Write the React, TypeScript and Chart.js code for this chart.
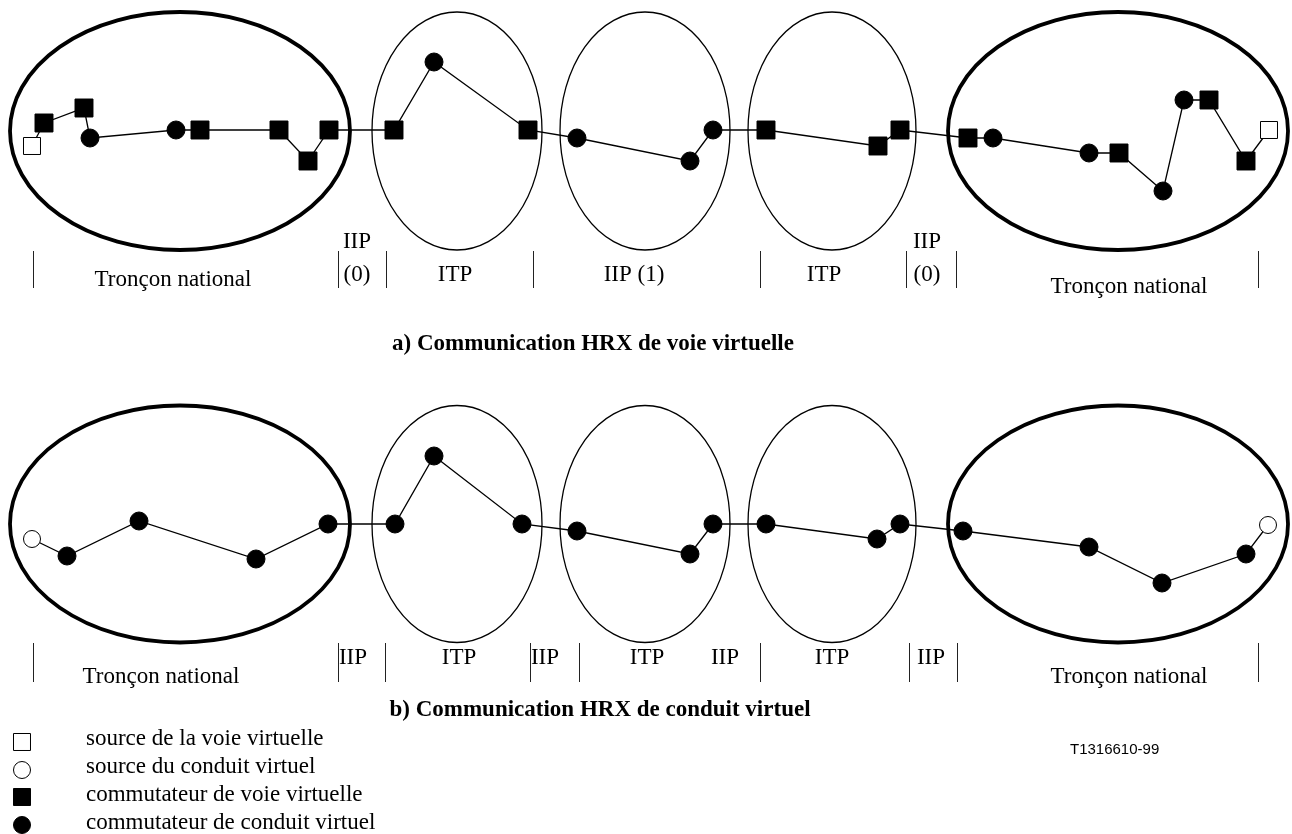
import React, { useEffect, useRef } from "react";
import { Chart, registerables } from "chart.js";

Chart.register(...registerables);

// ---- Diagram a) : communication HRX de voie virtuelle ----
const aX = [32, 44, 84, 90, 176, 200, 279, 308, 329, 394, 434, 528, 577, 690, 713, 766, 878, 900, 968, 993, 1089, 1119, 1163, 1184, 1209, 1246, 1269];
const aY = [146, 123, 108, 138, 130, 130, 130, 161, 130, 130, 62, 130, 138, 161, 130, 130, 146, 130, 138, 138, 153, 153, 191, 100, 100, 161, 130];
const aKind = ["vs", "sw", "sw", "cw", "cw", "sw", "sw", "sw", "sw", "sw", "cw", "sw", "cw", "cw", "cw", "sw", "sw", "sw", "sw", "cw", "cw", "sw", "cw", "cw", "sw", "sw", "vs"];

// ---- Diagram b) : communication HRX de conduit virtuel ----
const bX = [32, 67, 139, 256, 328, 395, 434, 522, 577, 690, 713, 766, 877, 900, 963, 1089, 1162, 1246, 1268];
const bY = [539, 556, 521, 559, 524, 524, 456, 524, 531, 554, 524, 524, 539, 524, 531, 547, 583, 554, 525];
const bKind = ["cs", "cw", "cw", "cw", "cw", "cw", "cw", "cw", "cw", "cw", "cw", "cw", "cw", "cw", "cw", "cw", "cw", "cw", "cs"];

// ---- Ellipses (domains) ----
const ellCX = [180, 457, 645, 832, 1118];
const ellRX = [170, 85, 85, 84, 170];
const ellThick = [true, false, false, false, true];
const ellRowCY = [131, 524];
const ellRY = [119, 118.5];

// ---- Section separators ----
const aBarX = [33, 338, 386, 533, 760, 906, 956, 1258];
const aBarY = [251, 288];
const bBarX = [33, 338, 385, 530, 579, 760, 909, 957, 1258];
const bBarY = [643, 682];

// ---- Section labels ----
const aLabelText = ["Tronçon national", "IIP", "(0)", "ITP", "IIP (1)", "ITP", "IIP", "(0)", "Tronçon national"];
const aLabelX = [173, 357, 357, 455, 634, 824, 927, 927, 1129];
const aLabelY = [280, 242, 275, 275, 275, 275, 242, 275, 287];

const bLabelText = ["Tronçon national", "IIP", "ITP", "IIP", "ITP", "IIP", "ITP", "IIP", "Tronçon national"];
const bLabelX = [161, 353, 459, 545, 647, 725, 832, 931, 1129];
const bLabelY = [677, 658, 658, 658, 658, 658, 658, 658, 677];

// ---- Titles ----
const titleText = ["a) Communication HRX de voie virtuelle", "b) Communication HRX de conduit virtuel"];
const titleX = [593, 600];
const titleY = [344, 710];

// ---- Legend ----
const legendKind = ["vs", "cs", "sw", "cw"];
const legendText = ["source de la voie virtuelle", "source du conduit virtuel", "commutateur de voie virtuelle", "commutateur de conduit virtuel"];
const legendSymX = [22, 22, 22, 22];
const legendSymY = [742, 770, 797, 825];
const legendTextX = 86;
const legendTextY = [739, 767, 795, 823];

const refText = "T1316610-99";
const refX = 1070;
const refY = 750;

const styleOf = (k: string) => (k === "vs" || k === "sw" ? "rect" : "circle");
const fillOf = (k: string) => (k === "vs" || k === "cs" ? "#ffffff" : "#000000");
const radiusOf = (k: string) => (k === "vs" ? 12 : k === "sw" ? 12.7 : k === "cs" ? 8.5 : 9);

const SERIF = '"Liberation Serif", "Times New Roman", serif';

const diagramPlugin = {
  id: "diagram",
  beforeDatasetsDraw(chart: any) {
    const { ctx, scales } = chart;
    const xs = scales.x;
    const ys = scales.y;
    ctx.save();
    ctx.strokeStyle = "#000";
    for (let r = 0; r < ellRowCY.length; r++) {
      for (let i = 0; i < ellCX.length; i++) {
        const cx = xs.getPixelForValue(ellCX[i]);
        const cy = ys.getPixelForValue(ellRowCY[r]);
        const rx = Math.abs(xs.getPixelForValue(ellCX[i] + ellRX[i]) - cx);
        const ry = Math.abs(ys.getPixelForValue(ellRowCY[r] + ellRY[r]) - cy);
        ctx.lineWidth = ellThick[i] ? 3.8 : 1.3;
        ctx.beginPath();
        ctx.ellipse(cx, cy, rx, ry, 0, 0, Math.PI * 2);
        ctx.stroke();
      }
    }
    ctx.restore();
  },
  afterDatasetsDraw(chart: any) {
    const { ctx, scales } = chart;
    const xs = scales.x;
    const ys = scales.y;
    ctx.save();
    // separators
    ctx.strokeStyle = "#222";
    ctx.lineWidth = 1;
    const bars = (xsArr: number[], yr: number[]) => {
      for (const bx of xsArr) {
        const px = Math.round(xs.getPixelForValue(bx)) + 0.5;
        ctx.beginPath();
        ctx.moveTo(px, ys.getPixelForValue(yr[0]));
        ctx.lineTo(px, ys.getPixelForValue(yr[1]));
        ctx.stroke();
      }
    };
    bars(aBarX, aBarY);
    bars(bBarX, bBarY);

    ctx.fillStyle = "#000";
    ctx.textBaseline = "middle";
    ctx.textAlign = "center";
    ctx.font = `23px ${SERIF}`;
    const labels = (t: string[], lx: number[], ly: number[]) => {
      t.forEach((s, i) => ctx.fillText(s, xs.getPixelForValue(lx[i]), ys.getPixelForValue(ly[i])));
    };
    labels(aLabelText, aLabelX, aLabelY);
    labels(bLabelText, bLabelX, bLabelY);

    ctx.font = `bold 23px ${SERIF}`;
    labels(titleText, titleX, titleY);

    ctx.textAlign = "left";
    ctx.font = `23px ${SERIF}`;
    legendText.forEach((s, i) => ctx.fillText(s, xs.getPixelForValue(legendTextX), ys.getPixelForValue(legendTextY[i])));

    ctx.font = '15px "Liberation Sans", Arial, sans-serif';
    ctx.fillText(refText, xs.getPixelForValue(refX), ys.getPixelForValue(refY));
    ctx.restore();
  },
};

const pathDataset = (xv: number[], yv: number[], kinds: string[]) => ({
  data: xv.map((x, i) => ({ x, y: yv[i] })),
  showLine: true,
  borderColor: "#000",
  borderWidth: 1.3,
  tension: 0,
  pointStyle: kinds.map(styleOf),
  pointRadius: kinds.map(radiusOf),
  pointBackgroundColor: kinds.map(fillOf),
  pointBorderColor: "#000",
  pointBorderWidth: 1,
  clip: false as const,
});

export default function App() {
  const ref = useRef<HTMLCanvasElement | null>(null);
  useEffect(() => {
    document.body.style.margin = "0";
    document.body.style.background = "#fff";
    const canvas = ref.current;
    if (!canvas) return;
    const chart = new Chart(canvas, {
      type: "scatter",
      data: {
        datasets: [
          pathDataset(aX, aY, aKind),
          pathDataset(bX, bY, bKind),
          {
            data: legendSymX.map((x, i) => ({ x, y: legendSymY[i] })),
            showLine: false,
            pointStyle: legendKind.map(styleOf),
            pointRadius: legendKind.map((k) => (k === "vs" || k === "sw" ? 12 : 8.5)),
            pointBackgroundColor: legendKind.map(fillOf),
            pointBorderColor: "#000",
            pointBorderWidth: 1,
            clip: false as const,
          } as any,
        ],
      },
      options: {
        animation: false,
        responsive: false,
        events: [],
        layout: { padding: 0, autoPadding: false },
        plugins: { legend: { display: false }, tooltip: { enabled: false } },
        scales: {
          x: { type: "linear", min: 0, max: 1292, display: false },
          y: { type: "linear", min: 0, max: 834, reverse: true, display: false },
        },
      },
      plugins: [diagramPlugin],
    });
    return () => chart.destroy();
  }, []);
  return (
    <canvas
      ref={ref}
      width={1292}
      height={834}
      style={{ display: "block", width: "1292px", height: "834px" }}
    />
  );
}
